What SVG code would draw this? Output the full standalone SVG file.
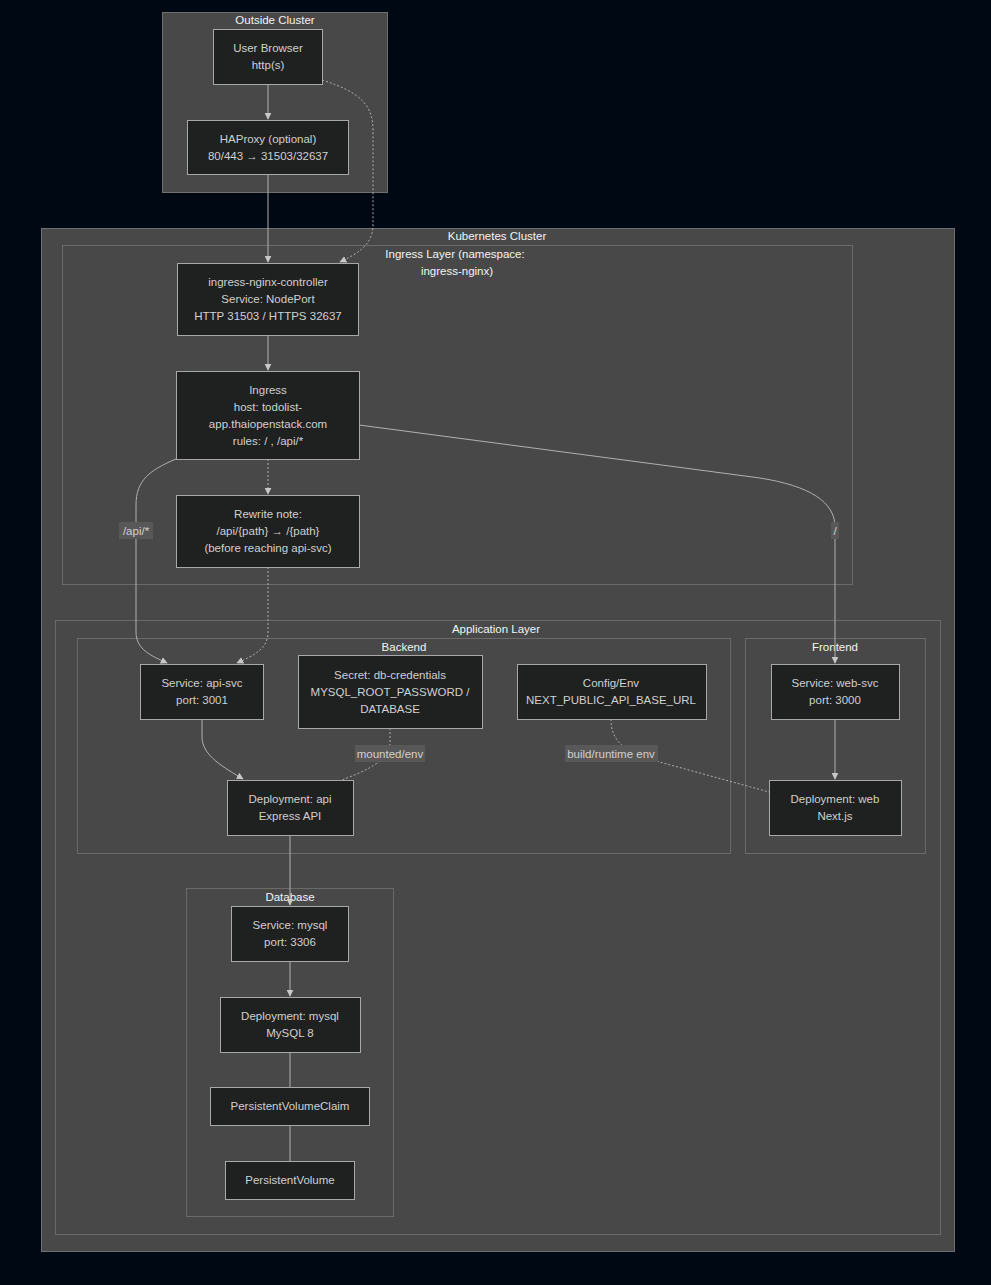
<svg xmlns="http://www.w3.org/2000/svg" width="991" height="1285" viewBox="0 0 991 1285">
<style>
.cl{fill:#474847;stroke:#707070;stroke-width:1}
.cl2{fill:none;stroke:#6a6a6a;stroke-width:1}
.nd rect{fill:#1f2020;stroke:#a8a8a8;stroke-width:1}
.t{font-family:"Liberation Sans",Arial,sans-serif;font-size:11.5px;fill:#d0d0d0;text-anchor:middle}
.ct{font-family:"Liberation Sans",Arial,sans-serif;font-size:11.5px;fill:#f4f4f4;text-anchor:middle}
.e{fill:none;stroke:#b0b0b0;stroke-width:1}
.d{stroke-dasharray:2 2}
.lb{fill:#585858}
</style>
<defs>
<marker id="ar" viewBox="0 0 10 10" refX="9" refY="5" markerWidth="7" markerHeight="7" orient="auto">
<path d="M0,0 L10,5 L0,10 z" fill="#c8c8c8"/>
</marker>
</defs>
<rect width="991" height="1285" fill="#000814"/>

<g id="clusters">
<rect class="cl" x="162.5" y="12.5" width="225" height="180"/>
<text class="ct" x="275" y="24">Outside Cluster</text>
<rect class="cl" x="41.5" y="228.5" width="913" height="1023"/>
<text class="ct" x="497" y="240">Kubernetes Cluster</text>
<rect class="cl2" x="62.5" y="245.5" width="790" height="339"/>
<text class="ct" x="455" y="258">Ingress Layer (namespace:</text>
<text class="ct" x="457" y="275">ingress-nginx)</text>
<rect class="cl2" x="55.5" y="620.5" width="885" height="614"/>
<text class="ct" x="496" y="633">Application Layer</text>
<rect class="cl2" x="77.5" y="638.5" width="653" height="215"/>
<text class="ct" x="404" y="651">Backend</text>
<rect class="cl2" x="745.5" y="638.5" width="180" height="215"/>
<text class="ct" x="835" y="651">Frontend</text>
<rect class="cl2" x="186.5" y="888.5" width="207" height="328"/>
<text class="ct" x="290" y="901">Database</text>
</g>

<g id="connectors">
<path class="e" d="M268,84 L268,119" marker-end="url(#ar)"/>
<path class="e" d="M268,174 L268,262" marker-end="url(#ar)"/>
<path class="e d" d="M322,80 C360,92 373,105 373,130 L373,225 C373,245 357,254 340,262" marker-end="url(#ar)"/>
<path class="e" d="M268,335 L268,370" marker-end="url(#ar)"/>
<path class="e d" d="M268,459 L268,494" marker-end="url(#ar)"/>
<path class="e" d="M176,459 C150,470 136,480 136,505 L136,632 C136,650 152,656 167,663" marker-end="url(#ar)"/>
<path class="e d" d="M268,567 L268,632 C268,650 252,656 237,663" marker-end="url(#ar)"/>
<path class="e" d="M359,425 L760,478 C810,486 835,502 835,527 L835,663" marker-end="url(#ar)"/>
<path class="e" d="M202,719 L202,737 C202,756 225,768 243,779" marker-end="url(#ar)"/>
<path class="e d" d="M390,728 L390,742 C390,762 362,772 342,780"/>
<path class="e d" d="M611,719 C611,738 620,748 645,758 L769,792"/>
<path class="e" d="M835,719 L835,779" marker-end="url(#ar)"/>
<path class="e" d="M290,835 L290,905" marker-end="url(#ar)"/>
<path class="e" d="M290,961 L290,996" marker-end="url(#ar)"/>
<path class="e" d="M290,1052 L290,1087"/>
<path class="e" d="M290,1125 L290,1161"/>
<rect class="lb" x="119" y="522" width="34" height="17"/>
<text class="t" x="136" y="535">/api/*</text>
<rect class="lb" x="831" y="522" width="8" height="17"/>
<text class="t" x="835" y="535">/</text>
<rect class="lb" x="355" y="745" width="70" height="17"/>
<text class="t" x="390" y="758">mounted/env</text>
<rect class="lb" x="565" y="745" width="93" height="17"/>
<text class="t" x="611" y="758">build/runtime env</text>
</g>

<g id="n-browser" class="nd"><rect x="213.5" y="29.5" width="109" height="55"/>
<text class="t" x="268" y="52">User Browser</text><text class="t" x="268" y="69">http(s)</text></g>
<g id="n-haproxy" class="nd"><rect x="187.5" y="120.5" width="161" height="54"/>
<text class="t" x="268" y="143">HAProxy (optional)</text><text class="t" x="268" y="160">80/443 → 31503/32637</text></g>
<g id="n-ingctl" class="nd"><rect x="177.5" y="263.5" width="181" height="72"/>
<text class="t" x="268" y="286">ingress-nginx-controller</text><text class="t" x="268" y="303">Service: NodePort</text><text class="t" x="268" y="320">HTTP 31503 / HTTPS 32637</text></g>
<g id="n-ingress" class="nd"><rect x="176.5" y="371.5" width="183" height="88"/>
<text class="t" x="268" y="394">Ingress</text><text class="t" x="268" y="411">host: todolist-</text><text class="t" x="268" y="428">app.thaiopenstack.com</text><text class="t" x="268" y="445">rules: / , /api/*</text></g>
<g id="n-rewrite" class="nd"><rect x="176.5" y="495.5" width="183" height="72"/>
<text class="t" x="268" y="518">Rewrite note:</text><text class="t" x="268" y="535">/api/{path} → /{path}</text><text class="t" x="268" y="552">(before reaching api-svc)</text></g>
<g id="n-apisvc" class="nd"><rect x="140.5" y="664.5" width="123" height="55"/>
<text class="t" x="202" y="687">Service: api-svc</text><text class="t" x="202" y="704">port: 3001</text></g>
<g id="n-secret" class="nd"><rect x="298.5" y="655.5" width="184" height="73"/>
<text class="t" x="390" y="679">Secret: db-credentials</text><text class="t" x="390" y="696">MYSQL_ROOT_PASSWORD /</text><text class="t" x="390" y="713">DATABASE</text></g>
<g id="n-config" class="nd"><rect x="517.5" y="664.5" width="189" height="55"/>
<text class="t" x="611" y="687">Config/Env</text><text class="t" x="611" y="704">NEXT_PUBLIC_API_BASE_URL</text></g>
<g id="n-apidep" class="nd"><rect x="227.5" y="780.5" width="126" height="55"/>
<text class="t" x="290" y="803">Deployment: api</text><text class="t" x="290" y="820">Express API</text></g>
<g id="n-websvc" class="nd"><rect x="771.5" y="664.5" width="128" height="55"/>
<text class="t" x="835" y="687">Service: web-svc</text><text class="t" x="835" y="704">port: 3000</text></g>
<g id="n-webdep" class="nd"><rect x="769.5" y="780.5" width="132" height="55"/>
<text class="t" x="835" y="803">Deployment: web</text><text class="t" x="835" y="820">Next.js</text></g>
<g id="n-mysqlsvc" class="nd"><rect x="231.5" y="906.5" width="117" height="55"/>
<text class="t" x="290" y="929">Service: mysql</text><text class="t" x="290" y="946">port: 3306</text></g>
<g id="n-mysqldep" class="nd"><rect x="220.5" y="997.5" width="140" height="55"/>
<text class="t" x="290" y="1020">Deployment: mysql</text><text class="t" x="290" y="1037">MySQL 8</text></g>
<g id="n-pvc" class="nd"><rect x="210.5" y="1087.5" width="159" height="38"/>
<text class="t" x="290" y="1110">PersistentVolumeClaim</text></g>
<g id="n-pv" class="nd"><rect x="225.5" y="1161.5" width="129" height="38"/>
<text class="t" x="290" y="1184">PersistentVolume</text></g>
</svg>
